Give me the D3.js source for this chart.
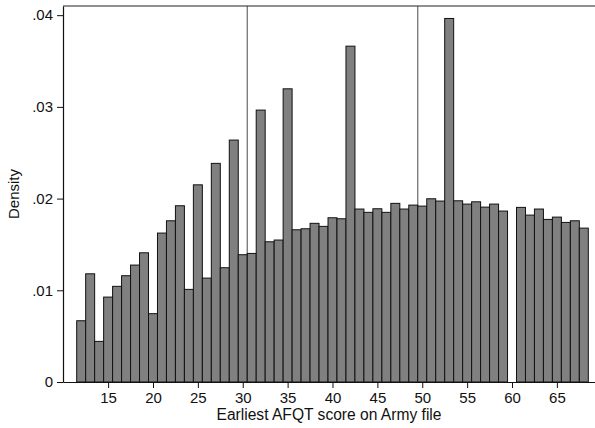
<!DOCTYPE html>
<html>
<head>
<meta charset="utf-8">
<script src="https://cdn.jsdelivr.net/npm/d3@7/dist/d3.min.js"></script>
<style>
  html, body { margin: 0; padding: 0; background: #fff; }
  svg { display: block; font-family: "Liberation Sans", Arial, Helvetica, sans-serif; }
</style>
</head>
<body>
<svg id="chart" width="595" height="428"></svg>
<script>
// Earliest AFQT score (integer bins) and the density of each bin
const scores = [12,13,14,15,16,17,18,19,20,21,22,23,24,25,26,27,28,29,30,31,32,33,34,35,36,37,38,39,40,
                41,42,43,44,45,46,47,48,49,50,51,52,53,54,55,56,57,58,59,61,62,63,64,65,66,67,68];
const density = [.00668,.0118,.00443,.00926,.01043,.01159,.01275,.01409,.00745,.01624,.01758,.01922,.0101,
                 .0215,.01133,.02384,.01246,.02638,.01388,.01402,.02965,.01529,.01548,.03197,.0166,.01671,
                 .0173,.01697,.01791,.0178,.03662,.01886,.0185,.01889,.0185,.01948,.01886,.01929,.01918,
                 .01998,.01973,.03964,.01976,.0194,.01965,.01907,.0194,.01864,.01904,.0182,.01886,.01773,
                 .01798,.0174,.01758,.01678];
// Category cut-offs marked with reference lines
const cutoffs = [30.5, 49.5];
const xTicks = [15,20,25,30,35,40,45,50,55,60,65];
const yTicks = [0,.01,.02,.03,.04];
const xTitle = "Earliest AFQT score on Army file";
const yTitle = "Density";

const bins = scores.map((s, i) => ({score: s, value: density[i]}));

const plotLeft = 63, plotRight = 595, plotTop = 6, plotBottom = 382;
const svg = d3.select("#chart");

const x = d3.scaleLinear().domain([9.974, 69.246]).range([plotLeft, plotRight]);
const y = d3.scaleLinear().domain([0, 0.041]).range([plotBottom, plotTop]);

// reference lines behind the bars
svg.append("g").selectAll("line").data(cutoffs).join("line")
  .attr("x1", d => x(d)).attr("x2", d => x(d))
  .attr("y1", plotTop).attr("y2", plotBottom)
  .attr("stroke", "#5c5c5c").attr("stroke-width", 1.1);

// histogram bars
svg.append("g").selectAll("rect").data(bins).join("rect")
  .attr("x", d => x(d.score - 0.5))
  .attr("width", d => x(d.score + 0.5) - x(d.score - 0.5))
  .attr("y", d => y(d.value))
  .attr("height", d => y(0) - y(d.value))
  .attr("fill", "#808080")
  .attr("stroke", "#111")
  .attr("stroke-width", 1);

// top frame line
svg.append("line")
  .attr("x1", plotLeft).attr("x2", plotRight).attr("y1", plotTop).attr("y2", plotTop)
  .attr("stroke", "#222").attr("stroke-width", 1.2);

const fmt = d => d === 0 ? "0" : d3.format(".2f")(d).replace(/^0/, "");

const yAxis = svg.append("g")
  .attr("transform", `translate(${plotLeft},0)`)
  .call(d3.axisLeft(y).tickValues(yTicks).tickFormat(fmt).tickSize(6).tickSizeOuter(0).tickPadding(4));

const xAxis = svg.append("g")
  .attr("transform", `translate(0,${plotBottom})`)
  .call(d3.axisBottom(x).tickValues(xTicks).tickSize(6).tickSizeOuter(0).tickPadding(4.5));

[yAxis, xAxis].forEach(g => {
  g.selectAll("path.domain").attr("stroke", "#111").attr("stroke-width", 1.2);
  g.selectAll(".tick line").attr("stroke", "#111").attr("stroke-width", 1);
  g.selectAll(".tick text").attr("fill", "#111").style("font-size", "15px")
    .style("font-family", "'Liberation Sans', Arial, Helvetica, sans-serif");
});

svg.append("text")
  .attr("x", (plotLeft + plotRight) / 2).attr("y", 420)
  .attr("text-anchor", "middle")
  .attr("fill", "#111").style("font-size", "15.6px")
  .text(xTitle);

svg.append("text")
  .attr("transform", `translate(19,${(plotTop + plotBottom) / 2}) rotate(-90)`)
  .attr("text-anchor", "middle")
  .attr("fill", "#111").style("font-size", "15px")
  .text(yTitle);
</script>
</body>
</html>
